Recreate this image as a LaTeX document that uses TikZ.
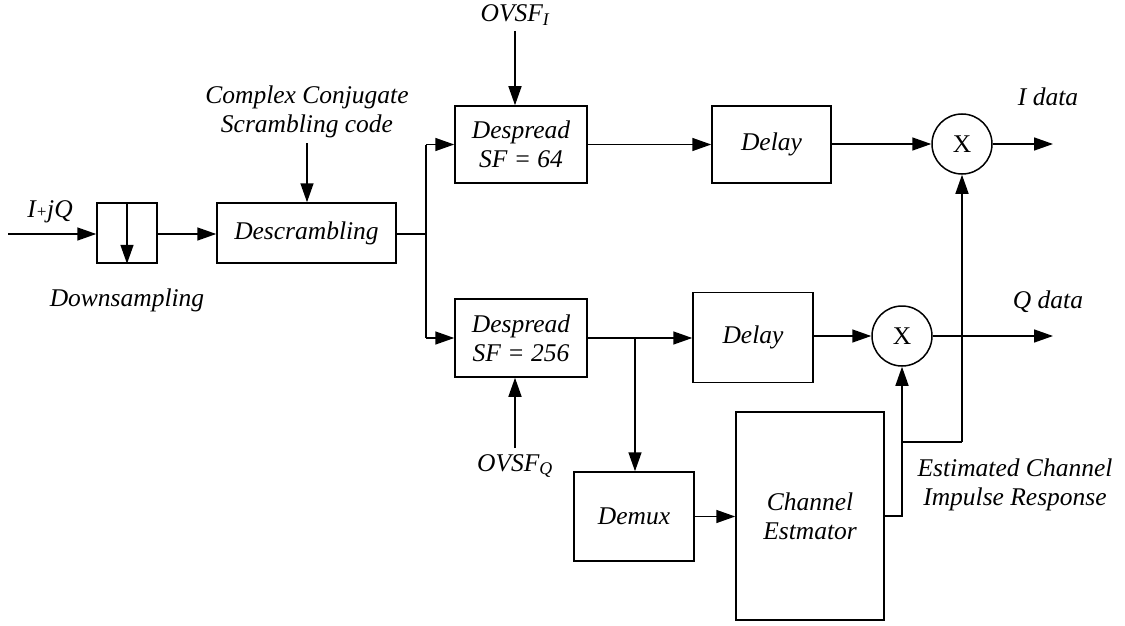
\documentclass[tikz,border=0pt]{standalone}
\usepackage{fontspec}
\setmainfont{Liberation Serif}
\usetikzlibrary{arrows.meta}
\tikzset{
  blk/.style={draw, line width=1.5pt, inner sep=0pt, align=center},
  mul/.style={draw, circle, line width=1.5pt, minimum size=60pt, inner sep=0pt, font=\fontsize{25.5}{29}\selectfont\upshape},
  lbl/.style={inner sep=0pt, align=center},
  wire/.style={line width=1.5pt},
  arr/.style={line width=1.5pt, -{Triangle[length=19pt,width=13pt]}},
}
\begin{document}
\begin{tikzpicture}[x=1pt,y=-1pt,font=\fontsize{25.5}{29}\selectfont\itshape]
\useasboundingbox (0,0) rectangle (1125,626);
% blocks
\node[blk, minimum width=60pt, minimum height=60pt] (ds) at (127,233) {};
\node[blk, minimum width=179pt, minimum height=60pt] (desc) at (306.5,233) {Descrambling};
\node[blk, minimum width=132pt, minimum height=77pt] (d64) at (521,144.5) {Despread\\SF = 64};
\node[blk, minimum width=132pt, minimum height=78pt] (d256) at (521,338) {Despread\\SF = 256};
\node[blk, minimum width=119pt, minimum height=77pt] (dl1) at (771.5,144.5) {Delay};
\node[blk, minimum width=120pt, minimum height=90pt] (dl2) at (753,337.5) {Delay};
\node[mul] (mi) at (962,144) {X};
\node[mul] (mq) at (902,336) {X};
\node[blk, minimum width=120pt, minimum height=89pt] (dmx) at (634,516.5) {Demux};
\node[blk, minimum width=148pt, minimum height=208pt] (ce) at (810,516) {Channel\\Estmator};
% labels
\node[lbl] (lin) at (50,212) {I{\fontsize{17}{17}\selectfont+}jQ};
\node[lbl] (lds) at (127,300) {Downsampling};
\node[lbl] (lsc) at (307,112) {Complex Conjugate\\Scrambling code};
\node[lbl] (lovi) at (515,15) {OVSF\textsubscript{I}};
\node[lbl] (lovq) at (515,466) {OVSF\textsubscript{Q}};
\node[lbl] (lid) at (1048,97) {I data};
\node[lbl] (lqd) at (1048,302) {Q data};
\node[lbl] (lest) at (1015,485) {Estimated Channel\\Impulse Response};
% coordinates
\coordinate (in) at (8,234);
\coordinate (br) at (426,234);
\coordinate (br1) at (426,144.5);
\coordinate (br2) at (426,338);
\coordinate (sc) at (307,143);
\coordinate (ovi) at (515,31);
\coordinate (ovq) at (515,448);
\coordinate (j1) at (635,338);
\coordinate (oi) at (1053,144);
\coordinate (oq) at (1053,336);
\coordinate (ceo) at (902,516);
\coordinate (jc) at (902,442);
\coordinate (jc2) at (962,442);
% connectors
\draw[arr] (in) -- (ds.west |- in);
\draw[arr] (ds.north) -- (ds.south);
\draw[arr] (ds.east |- in) -- (desc.west |- in);
\draw[arr] (sc) -- (desc.north -| sc);
\draw[wire] (desc.east |- br) -- (br);
\draw[wire] (br1) -- (br2);
\draw[arr] (br1) -- (d64.west);
\draw[arr] (br2) -- (d256.west);
\draw[arr] (ovi) -- (d64.north -| ovi);
\draw[arr] (ovq) -- (d256.south -| ovq);
\draw[arr] (d64.east) -- (dl1.west);
\draw[arr] (dl1.east |- mi) -- (mi.west);
\draw[arr] (mi.east) -- (oi);
\draw[wire] (d256.east) -- (j1);
\draw[arr] (j1) -- (dl2.west |- j1);
\draw[arr] (j1) -- (dmx.north -| j1);
\draw[arr] (dl2.east |- mq) -- (mq.west);
\draw[arr] (mq.east) -- (oq);
\draw[arr] (dmx.east) -- (ce.west |- dmx.east);
\draw[wire] (ce.east |- ceo) -- (ceo) -- (jc);
\draw[arr] (jc) -- (mq.south);
\draw[wire] (jc) -- (jc2);
\draw[arr] (jc2) -- (mi.south);
\end{tikzpicture}
\end{document}
